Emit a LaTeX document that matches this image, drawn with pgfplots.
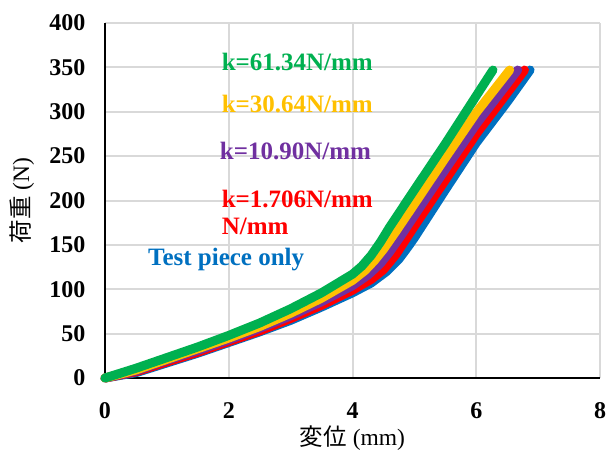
\documentclass[border=0pt]{standalone}
\usepackage{fontspec}
\setmainfont{Liberation Serif}
\newfontfamily\cjk{Noto Sans CJK JP}
\usepackage{pgfplots}
\pgfplotsset{compat=1.18}
\definecolor{xgreen}{HTML}{00B050}
\definecolor{xyellow}{HTML}{FFC000}
\definecolor{xpurple}{HTML}{7030A0}
\definecolor{xred}{HTML}{FF0000}
\definecolor{xblue}{HTML}{0070C0}
\definecolor{gridgray}{HTML}{D9D9D9}
\begin{document}
\begin{tikzpicture}
\begin{axis}[
    name=ax,
    scale only axis,
    width=495pt, height=355pt,
    xmin=0, xmax=8, ymin=0, ymax=400,
    xtick={0,2,4,6,8},
    ytick={0,50,100,150,200,250,300,350,400},
    axis lines=left,
    axis line style={-, black, line width=1.8pt},
    grid=major,
    major grid style={gridgray, line width=2pt},
    major tick length=0pt,
    tick label style={font=\fontsize{24}{28}\selectfont\bfseries},
    /pgf/number format/assume math mode=true,
    xticklabel style={yshift=-21pt},
    yticklabel style={xshift=-16pt},
    xlabel={{\cjk 変位} (mm)},
    ylabel={{\cjk 荷重} (N)},
    label style={font=\fontsize{23.5}{27}\selectfont},
    xlabel style={at={(axis description cs:0.5,-0.169)}, anchor=center},
    ylabel style={at={(axis description cs:-0.168,0.5)}, anchor=center},
    every axis plot/.append style={line width=9pt, line cap=round, line join=round, no marks},
    clip=false,
]
\addplot[xblue] coordinates {
(0,0) (0.5,6) (1,17) (1.5,28) (2,40) (2.5,52) (3,65) (3.5,80) (4,96) (4.3,107) (4.55,120) (4.75,134) (4.9,148) (5,158) (5.5,212) (6,265) (6.5,311) (6.87,347)
};
\addplot[xred] coordinates {
(0,0) (0.5,7) (1,18) (1.5,29) (2,41) (2.5,53) (3,67) (3.5,82) (4,99) (4.3,111) (4.5,122) (4.7,139) (4.85,155) (5,171) (5.5,223) (6,275) (6.78,347)
};
\addplot[xpurple] coordinates {
(0,0) (0.5,8) (1,20) (1.5,31) (2,43) (2.5,56) (3,70) (3.5,86) (4,104) (4.25,116) (4.45,129) (4.6,142) (4.8,162) (5,183) (5.5,235) (6,286) (6.67,347)
};
\addplot[xyellow] coordinates {
(0,0) (0.5,9) (1,21) (1.5,33) (2,45) (2.5,58) (3,73) (3.5,90) (4,110) (4.2,121) (4.35,132) (4.5,145) (4.7,165) (5,196) (5.5,248) (6,299) (6.54,347)
};
\addplot[xgreen] coordinates {
(0,0) (0.5,11) (1,23) (1.5,35) (2,48) (2.5,62) (3,78) (3.5,96) (4,117) (4.15,126) (4.3,138) (4.45,153) (4.6,170) (5,212) (5.5,264) (6,318) (6.27,347)
};
\node[anchor=west, text=xgreen, font=\fontsize{25}{29}\selectfont\bfseries] at (axis cs:1.83,356) {k=61.34N/mm};
\node[anchor=west, text=xyellow, font=\fontsize{25}{29}\selectfont\bfseries] at (axis cs:1.83,309) {k=30.64N/mm};
\node[anchor=west, text=xpurple, font=\fontsize{25}{29}\selectfont\bfseries] at (axis cs:1.80,256) {k=10.90N/mm};
\node[anchor=west, text=xred, font=\fontsize{25}{29}\selectfont\bfseries] at (axis cs:1.83,202) {k=1.706N/mm};
\node[anchor=west, text=xred, font=\fontsize{25}{29}\selectfont\bfseries] at (axis cs:1.83,171) {N/mm};
\node[anchor=west, text=xblue, font=\fontsize{25}{29}\selectfont\bfseries] at (axis cs:0.64,134) {Test piece only};
\end{axis}
\pgfresetboundingbox
\path ([shift={(-105pt,-77pt)}]ax.south west) rectangle ([shift={(9pt,23pt)}]ax.north east);
\end{tikzpicture}
\end{document}
